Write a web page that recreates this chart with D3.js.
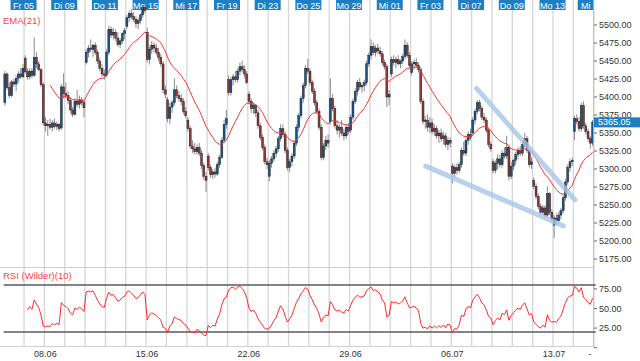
<!DOCTYPE html>
<html><head><meta charset="utf-8">
<script src="https://cdn.jsdelivr.net/npm/d3@7"></script>
<style>body{margin:0;background:#fff}svg{display:block;font-family:"Liberation Sans",Arial,sans-serif}</style>
</head><body><svg id="c" width="640" height="361"></svg>
<script>
// ---------- data ----------
const tradingDays = ['04.06','05.06','08.06','09.06','10.06','11.06','12.06','15.06','16.06','17.06','18.06','19.06','22.06','23.06','24.06','25.06','26.06','29.06','30.06','01.07','02.07','03.07','06.07','07.07','08.07','09.07','10.07','13.07','14.07','15.07'];
const barsPerDay = 9;
const topLabelDays = ['05.06','09.06','11.06','15.06','17.06','19.06','23.06','25.06','29.06','01.07','03.07','07.07','09.07','13.07','15.07'];
const topLabelText = ['Fr 05','Di 09','Do 11','Mo 15','Mi 17','Fr 19','Di 23','Do 25','Mo 29','Mi 01','Fr 03','Di 07','Do 09','Mo 13','Mi'];
const weekLabels = ['08.06','15.06','22.06','29.06','06.07','13.07'];
const priceTicks = [5175,5200,5225,5250,5275,5300,5325,5350,5375,5400,5425,5450,5475,5500];
const rsiTicks = [0,25,50,75];
const rsiBands = [20,80];
const lastPrice = 5365.05;
// trend lines: [bar index, price]
const trendUpper = [[209.2,5412],[252.7,5257]];
const trendLower = [[186.7,5304],[247.6,5221]];

const open = [
5392,5432,5413,5402,5421,5418,5426,5432,5428,
5454,5435,5428,5436,5430,5455,5446,5438,5417,
5364,5360,5362,5358,5364,5359,5362,5357,5414,
5405,5402,5395,5382,5376,5394,5390,5396,5392,
5448,5462,5468,5466,5472,5462,5450,5440,5432,
5430,5462,5494,5486,5490,5482,5473,5478,5488,
5498,5510,5516,5512,5508,5502,5506,5514,5524,
5490,5452,5466,5472,5468,5462,5455,5446,5410,
5396,5370,5386,5392,5410,5402,5398,5394,5380,
5368,5356,5332,5328,5324,5330,5322,5305,5290,
5318,5302,5292,5296,5293,5306,5316,5340,5362,
5424,5406,5424,5428,5424,5436,5442,5438,5432,
5404,5394,5384,5388,5378,5360,5344,5330,5310,
5290,5308,5314,5322,5328,5342,5356,5348,5326,
5302,5310,5318,5336,5358,5374,5398,5416,5440,
5436,5420,5408,5392,5380,5358,5316,5332,5340,
5366,5398,5384,5360,5354,5358,5350,5346,5358,
5354,5372,5394,5408,5420,5414,5416,5420,5446,
5458,5470,5462,5468,5464,5460,5448,5442,5400,
5432,5452,5448,5452,5446,5450,5456,5472,5458,
5434,5446,5448,5444,5438,5394,5366,5368,5358,
5364,5352,5356,5346,5350,5342,5346,5334,5340,
5304,5294,5302,5298,5306,5326,5322,5340,5348,
5350,5368,5380,5392,5384,5372,5368,5354,5334,
5310,5298,5308,5314,5306,5322,5318,5330,5290,
5304,5312,5320,5326,5322,5334,5342,5326,5306,
5284,5276,5262,5248,5240,5246,5236,5266,5240,
5222,5232,5228,5236,5242,5260,5282,5302,5310,
5352,5370,5366,5356,5388,5360,5352,5342,5336];
const high = [
5436,5434,5420,5424,5425,5430,5436,5440,5446,
5458,5440,5440,5440,5483,5462,5450,5440,5420,
5372,5368,5370,5368,5370,5366,5364,5418,5433,
5420,5408,5400,5386,5398,5410,5402,5400,5396,
5466,5472,5480,5474,5476,5466,5455,5446,5438,
5466,5499,5498,5496,5494,5490,5482,5490,5496,
5514,5520,5522,5518,5512,5510,5516,5528,5530,
5496,5470,5478,5476,5474,5468,5460,5450,5416,
5400,5392,5396,5426,5416,5408,5404,5398,5386,
5372,5360,5340,5336,5334,5336,5326,5308,5296,
5322,5306,5300,5302,5310,5320,5344,5368,5382,
5430,5428,5432,5436,5440,5448,5450,5444,5436,
5408,5398,5392,5390,5382,5364,5348,5334,5316,
5312,5318,5326,5332,5346,5362,5362,5352,5330,
5314,5322,5340,5362,5378,5402,5420,5444,5453,
5440,5424,5412,5396,5384,5362,5336,5346,5348,
5426,5404,5388,5368,5362,5368,5356,5362,5364,
5376,5398,5412,5424,5426,5420,5424,5450,5462,
5480,5476,5472,5474,5470,5464,5452,5446,5410,
5456,5458,5456,5458,5452,5460,5480,5476,5462,
5450,5452,5454,5448,5442,5398,5374,5376,5372,
5370,5362,5360,5354,5356,5352,5350,5344,5344,
5308,5306,5308,5310,5330,5338,5344,5352,5356,
5372,5384,5396,5396,5388,5378,5372,5358,5338,
5314,5312,5320,5320,5326,5330,5346,5334,5310,
5314,5324,5330,5332,5338,5350,5346,5330,5316,
5288,5280,5266,5252,5250,5250,5276,5268,5244,
5236,5238,5240,5246,5264,5286,5306,5314,5316,
5374,5376,5372,5392,5394,5364,5356,5346,5368];
const low = [
5388,5410,5398,5400,5414,5408,5420,5425,5426,
5432,5424,5424,5426,5428,5440,5436,5414,5360,
5352,5346,5355,5352,5356,5354,5352,5354,5398,
5398,5390,5378,5372,5374,5386,5384,5388,5372,
5445,5455,5462,5456,5458,5446,5436,5428,5424,
5428,5458,5482,5480,5478,5470,5468,5474,5480,
5494,5504,5508,5504,5496,5494,5502,5510,5516,
5448,5445,5460,5462,5458,5450,5442,5405,5398,
5365,5362,5378,5388,5398,5394,5388,5376,5370,
5352,5328,5322,5320,5320,5318,5300,5285,5268,
5298,5288,5286,5288,5290,5302,5314,5336,5356,
5402,5402,5416,5420,5420,5430,5434,5426,5418,
5390,5378,5376,5372,5356,5340,5326,5306,5300,
5283,5302,5310,5316,5324,5338,5344,5322,5298,
5296,5304,5314,5332,5352,5370,5392,5412,5432,
5416,5404,5388,5376,5354,5312,5312,5326,5330,
5362,5380,5356,5348,5344,5346,5340,5342,5348,
5350,5368,5390,5402,5410,5406,5408,5416,5442,
5452,5458,5456,5460,5456,5444,5438,5386,5388,
5428,5444,5440,5444,5440,5446,5452,5454,5440,
5430,5438,5440,5434,5390,5362,5356,5352,5350,
5348,5346,5342,5336,5338,5334,5330,5326,5330,
5280,5288,5292,5294,5302,5318,5318,5334,5340,
5346,5362,5376,5380,5368,5364,5350,5330,5324,
5294,5294,5300,5302,5302,5314,5314,5284,5286,
5298,5306,5314,5318,5318,5330,5322,5302,5300,
5272,5258,5244,5236,5236,5232,5232,5236,5226,
5204,5222,5224,5230,5238,5256,5278,5296,5304,
5340,5362,5352,5352,5356,5348,5338,5328,5332];
const close = [
5432,5413,5402,5421,5418,5426,5432,5428,5440,
5435,5428,5436,5430,5455,5446,5438,5417,5364,
5360,5362,5358,5364,5359,5362,5356,5414,5405,
5402,5395,5382,5376,5394,5390,5396,5392,5385,
5462,5468,5466,5472,5462,5450,5440,5432,5430,
5462,5494,5486,5490,5482,5473,5478,5488,5492,
5510,5516,5512,5508,5502,5506,5514,5524,5520,
5452,5466,5472,5468,5462,5455,5446,5410,5404,
5370,5386,5392,5410,5402,5398,5394,5380,5374,
5356,5332,5328,5324,5330,5322,5305,5290,5284,
5302,5292,5296,5293,5306,5316,5340,5362,5370,
5406,5424,5428,5424,5436,5442,5438,5432,5420,
5394,5384,5388,5378,5360,5344,5330,5310,5306,
5308,5314,5322,5328,5342,5356,5348,5326,5302,
5310,5318,5336,5358,5374,5398,5416,5440,5436,
5420,5408,5392,5380,5358,5316,5332,5340,5336,
5398,5384,5360,5354,5358,5350,5346,5358,5352,
5372,5394,5408,5420,5414,5416,5420,5446,5458,
5470,5462,5468,5464,5460,5448,5442,5400,5404,
5452,5448,5452,5446,5450,5456,5472,5458,5444,
5446,5448,5444,5438,5394,5366,5368,5358,5364,
5352,5356,5346,5350,5342,5346,5334,5340,5336,
5294,5302,5298,5306,5326,5322,5340,5348,5344,
5368,5380,5392,5384,5372,5368,5354,5334,5328,
5298,5308,5314,5306,5322,5318,5330,5290,5304,
5312,5320,5326,5322,5334,5342,5326,5306,5310,
5276,5262,5248,5240,5246,5236,5266,5240,5230,
5232,5228,5236,5242,5260,5282,5302,5310,5312,
5370,5366,5356,5388,5360,5352,5342,5336,5365.05];

// ---------- indicators (derived from close) ----------
function emaOf(vals, n){const k=2/(n+1);const out=[];let p=null;
  vals.forEach((v,i)=>{ if(i<n-1){out.push(null);return;}
    if(i===n-1){p=d3.mean(vals.slice(0,n));} else {p=v*k+p*(1-k);} out.push(p);});return out;}
function rsiWilder(vals,n){const out=vals.map(()=>null);let ag=0,al=0;
  for(let i=1;i<=n;i++){const d=vals[i]-vals[i-1];ag+=Math.max(d,0);al+=Math.max(-d,0);}
  ag/=n;al/=n;out[n]=al===0?100:100-100/(1+ag/al);
  for(let i=n+1;i<vals.length;i++){const d=vals[i]-vals[i-1];ag=(ag*(n-1)+Math.max(d,0))/n;al=(al*(n-1)+Math.max(-d,0))/n;out[i]=al===0?100:100-100/(1+ag/al);}
  return out;}
const ema21 = emaOf(close,21);
const rsi10 = rsiWilder(close,10);

// ---------- layout ----------
const N = close.length;
const plotR = 593.7;
const x = d3.scaleLinear().domain([0,N]).range([3.7,plotR]);
const dayX = d => x(d*barsPerDay);
const y = d3.scaleLinear().domain([5175,5500]).range([259,25]);
const yr = d3.scaleLinear().domain([20,80]).range([332,285]);
const svg = d3.select('#c');
const defs = svg.append('defs');
defs.append('clipPath').attr('id','cp').append('rect').attr('x',0).attr('y',0).attr('width',plotR).attr('height',267);
defs.append('clipPath').attr('id','cr').append('rect').attr('x',0).attr('y',268).attr('width',plotR+3).attr('height',80);

const blue = '#1e7ec4';
// grid lines
svg.append('g').selectAll('line').data(d3.range(1,tradingDays.length)).join('line')
  .attr('x1',d=>dayX(d)).attr('x2',d=>dayX(d)).attr('y1',0).attr('y2',347)
  .attr('stroke','#d6d6d6').attr('stroke-width',1.3);
// top labels
const tl = svg.append('g');
topLabelDays.forEach((dd,i)=>{
  const cx = dayX(tradingDays.indexOf(dd))-0.5;
  let bx = cx-13, bw = 26;
  if(bx+bw > plotR){ bx = cx-15.5; bw = plotR-bx; }
  tl.append('rect').attr('x',bx).attr('y',0).attr('width',bw).attr('height',10).attr('fill',blue);
  tl.append('text').attr('x',bx+bw/2).attr('y',8.5).attr('text-anchor','middle').attr('font-size',9).attr('fill','#fff').text(topLabelText[i]);
});
// candles
const pg = svg.append('g').attr('clip-path','url(#cp)');
const idx = d3.range(N);
pg.append('g').selectAll('line').data(idx).join('line')
  .attr('x1',i=>x(i+0.5)).attr('x2',i=>x(i+0.5)).attr('y1',i=>y(high[i])).attr('y2',i=>y(low[i]))
  .attr('stroke','#8a8a8a').attr('stroke-width',1);
pg.append('g').selectAll('rect').data(idx).join('rect')
  .attr('x',i=>x(i+0.5)-1).attr('width',2)
  .attr('y',i=>y(Math.max(open[i],close[i])))
  .attr('height',i=>Math.max(1,Math.abs(y(open[i])-y(close[i]))))
  .attr('fill',i=>close[i]>=open[i]?'#1b5586':'#8e3a3a')
  .attr('stroke','#111').attr('stroke-width',0.4);
// EMA
pg.append('path').datum(idx.filter(i=>ema21[i]!==null))
  .attr('d',d3.line().x(i=>x(i+0.5)).y(i=>y(ema21[i])))
  .attr('fill','none').attr('stroke','#ff3333').attr('stroke-width',1);
// trend lines
[trendUpper,trendLower].forEach(t=>{
  pg.append('line').attr('x1',x(t[0][0])).attr('y1',y(t[0][1])).attr('x2',x(t[1][0])).attr('y2',y(t[1][1]))
    .attr('stroke','#a9c6ea').attr('stroke-opacity',0.8).attr('stroke-width',5).attr('stroke-linecap','round');
});
svg.append('text').attr('x',3).attr('y',24).attr('font-size',9.5).attr('fill','#ff4444').text('EMA(21)');

// panel separators
svg.append('line').attr('x1',0).attr('x2',plotR).attr('y1',267.5).attr('y2',267.5).attr('stroke','#cfcfcf');
svg.append('line').attr('x1',0).attr('x2',plotR).attr('y1',346.5).attr('y2',346.5).attr('stroke','#cfcfcf');
svg.append('line').attr('x1',plotR).attr('x2',plotR).attr('y1',0).attr('y2',347).attr('stroke','#bdbdbd');

// price axis
const pa = svg.append('g');
priceTicks.forEach(p=>{
  pa.append('line').attr('x1',594).attr('x2',597).attr('y1',y(p)).attr('y2',y(p)).attr('stroke','#666');
  pa.append('text').attr('x',599).attr('y',y(p)+3.3).attr('font-size',9).attr('fill','#333').text(d3.format('.2f')(p));
});
pa.append('rect').attr('x',594).attr('y',y(lastPrice)-4.8).attr('width',46).attr('height',10).attr('fill',blue);
pa.append('text').attr('x',598).attr('y',y(lastPrice)+3.3).attr('font-size',9).attr('fill','#fff').text(d3.format('.2f')(lastPrice));

// RSI panel
svg.append('text').attr('x',3).attr('y',278.5).attr('font-size',9.5).attr('fill','#ff4444').text('RSI (Wilder)(10)');
const rg = svg.append('g').attr('clip-path','url(#cr)');
rsiBands.forEach(b=>{
  rg.append('line').attr('x1',x(0)).attr('x2',plotR+2).attr('y1',yr(b)).attr('y2',yr(b)).attr('stroke','#5a5a5a').attr('stroke-width',1.5);
});
rg.append('path').datum(idx.filter(i=>rsi10[i]!==null))
  .attr('d',d3.line().x(i=>x(i+0.5)).y(i=>yr(rsi10[i])))
  .attr('fill','none').attr('stroke','#ff2a2a').attr('stroke-width',1);
rsiTicks.forEach(v=>{
  svg.append('line').attr('x1',594).attr('x2',597).attr('y1',yr(v)).attr('y2',yr(v)).attr('stroke','#666');
  if(v>0) svg.append('text').attr('x',599).attr('y',yr(v)+3.3).attr('font-size',9).attr('fill','#333').text(d3.format('.2f')(v));
});
// bottom axis
weekLabels.forEach(w=>{
  svg.append('text').attr('x',dayX(tradingDays.indexOf(w))+1).attr('y',356.5).attr('text-anchor','middle').attr('font-size',9).attr('fill','#333').text(w);
});
svg.append('text').attr('x',590).attr('y',356.5).attr('text-anchor','middle').attr('font-size',9).attr('fill','#333').text('-');
</script></body></html>
